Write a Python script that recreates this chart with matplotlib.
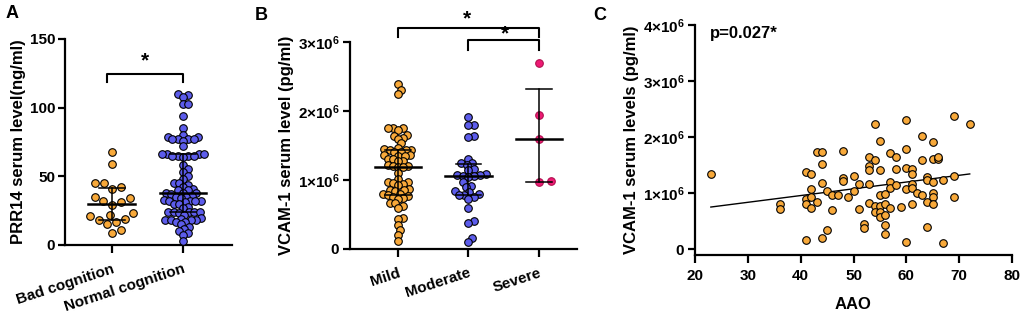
import numpy as np
import matplotlib
matplotlib.use("Agg")
import matplotlib.pyplot as plt

plt.rcParams["font.family"] = ["Liberation Sans", "DejaVu Sans"]
plt.rcParams["font.weight"] = "bold"
plt.rcParams["axes.labelweight"] = "bold"
plt.rcParams["mathtext.fontset"] = "custom"
plt.rcParams["mathtext.rm"] = "Liberation Sans:bold"
plt.rcParams["mathtext.bf"] = "Liberation Sans:bold"
plt.rcParams["mathtext.it"] = "Liberation Sans:bold"

ORANGE = "#F8A93A"
BLUE = "#5C5CEB"
PINK = "#EE1A74"

# panel A: PRR14 (ng/ml)
a_groups = ["Bad cognition", "Normal cognition"]
a_bad = [9, 11, 15, 17, 18, 19, 21, 22, 23, 29, 31, 32, 34, 35, 41, 42, 45, 45, 59, 68]
a_normal = [110, 109, 108, 103, 103, 94, 85, 80, 79, 79, 77, 77, 77, 77, 76, 72,
            66, 66, 66, 66, 65, 65, 65, 65, 64, 58, 55, 53, 50, 48, 45, 45, 44, 42,
            41, 40, 40, 38, 38, 38, 37, 36, 35, 35, 34, 33, 32, 32, 32, 32, 31, 30,
            30, 28, 27, 24, 24, 24, 24, 24, 23, 22, 20, 19, 18, 18, 18, 18, 17, 17,
            15, 13, 12, 10, 9, 7, 3]

# panel B: VCAM-1 (x10^6 pg/ml)
b_groups = ["Mild", "Moderate", "Severe"]
b_mild = [2.39, 2.31, 2.25, 1.76, 1.76, 1.75, 1.73, 1.65, 1.64, 1.61, 1.60, 1.53,
          1.47, 1.45, 1.44, 1.44, 1.43, 1.41, 1.40, 1.36, 1.36, 1.35, 1.35, 1.31,
          1.30, 1.28, 1.27, 1.22, 1.21, 1.20, 1.19, 1.19, 1.10, 1.02, 0.97, 0.97,
          0.95, 0.94, 0.93, 0.87, 0.86, 0.85, 0.84, 0.80, 0.79, 0.78, 0.77, 0.76,
          0.74, 0.73, 0.67, 0.66, 0.62, 0.60, 0.45, 0.43, 0.35, 0.28, 0.21, 0.12]
b_moderate = [1.92, 1.80, 1.79, 1.64, 1.62, 1.31, 1.25, 1.24, 1.22, 1.16, 1.14,
              1.08, 1.07, 1.07, 1.06, 1.06, 1.05, 0.97, 0.92, 0.90, 0.84, 0.83,
              0.80, 0.78, 0.78, 0.76, 0.72, 0.59, 0.40, 0.38, 0.16, 0.10]
b_severe = [2.70, 1.94, 1.60, 0.97, 0.98]

# panel C: AAO vs VCAM-1 (x10^6 pg/ml)
c_aao = [23, 36, 36, 41, 41, 41, 41, 42, 42, 42, 42, 43, 43, 44, 44, 44, 44, 45, 45,
         46, 46, 47, 48, 48, 48, 49, 50, 50, 51, 51, 52, 52, 53, 53, 53, 53, 53,
         54, 54, 54, 54, 55, 55, 55, 55, 55, 55, 56, 56, 56, 56, 56, 57, 57, 57, 57,
         58, 58, 58, 59, 60, 60, 60, 60, 60, 61, 61, 61, 61, 61, 62, 63, 63, 63,
         64, 64, 64, 64, 65, 65, 65, 65, 65, 65, 66, 66, 67, 67, 69, 69, 69, 72]
c_vcam = [1.34, 0.81, 0.72, 1.38, 0.89, 0.81, 0.17, 1.35, 1.07, 0.94, 0.73, 0.84, 1.74,
          1.74, 1.53, 1.18, 0.21, 1.04, 0.35, 0.97, 0.71, 0.97, 1.76, 1.28, 1.22,
          0.94, 1.31, 1.04, 1.16, 0.72, 0.45, 0.38, 1.64, 1.48, 1.41, 1.16, 0.83,
          2.23, 1.60, 0.77, 0.66, 1.93, 1.42, 0.97, 0.77, 0.66, 0.58, 0.99, 0.81,
          0.62, 0.43, 0.27, 1.72, 1.20, 1.10, 0.73, 1.65, 1.44, 1.14, 0.76, 2.31,
          1.79, 1.45, 1.07, 0.13, 1.44, 1.35, 1.16, 1.10, 0.81, 1.01, 2.02, 1.59,
          0.97, 1.29, 1.23, 0.85, 0.40, 1.92, 1.61, 1.20, 1.01, 0.93, 0.81, 1.61,
          1.65, 1.23, 0.11, 2.38, 1.31, 0.93, 2.24]
c_fit_x = [23, 72]
c_fit_y = [0.755, 1.345]

W, H = 1021, 315
fig = plt.figure(figsize=(W / 100, H / 100), dpi=100)


def add_ax(l, t, r, b):
    return fig.add_axes([l / W, 1 - b / H, (r - l) / W, (b - t) / H])


def style(ax):
    for s in ["top", "right"]:
        ax.spines[s].set_visible(False)
    for s in ["left", "bottom"]:
        ax.spines[s].set_linewidth(1.6)
    ax.tick_params(width=1.6, length=5, labelsize=11, pad=2)


def swarm(ax, xc, vals, d):
    # simple beeswarm in pixel space: d = min distance between centres
    vals = np.asarray(vals, float)
    tr = ax.transData
    ppu = tr.transform((xc + 1, 0))[0] - tr.transform((xc, 0))[0]
    ys = tr.transform(np.c_[np.full(len(vals), xc), vals])[:, 1]
    order = np.argsort(ys)
    placed = []
    offs = np.zeros(len(vals))
    for i in order:
        y = ys[i]
        cands = [0.0]
        near = [(px, py) for px, py in placed if abs(py - y) < d]
        for px, py in near:
            dx = np.sqrt(d * d - (py - y) ** 2)
            cands += [px + dx, px - dx]
        cands.sort(key=abs)
        for c in cands:
            if all((c - px) ** 2 + (y - py) ** 2 >= d * d - 1e-6 for px, py in near):
                break
        placed.append((c, y))
        offs[i] = c
    return xc + offs / ppu


def dots(ax, xc, vals, color, d, edge="black", shift=0.0):
    xs = swarm(ax, xc, vals, d) + shift
    ax.scatter(xs, vals, s=30, color=color, edgecolor=edge, linewidth=0.8,
               zorder=3, clip_on=False)
    q1, med, q3 = np.percentile(vals, [25, 50, 75], method="weibull")
    ax.plot([xc - 0.33, xc + 0.33], [med, med], color="black", lw=1.8, zorder=4)
    ax.plot([xc, xc], [q1, q3], color="black", lw=1.1, zorder=4)
    for q in (q1, q3):
        ax.plot([xc - 0.18, xc + 0.18], [q, q], color="black", lw=1.1, zorder=4)


def bracket(ax, x0, x1, y, h, xs, ys):
    ax.plot([x0, x0, x1, x1], [y - h, y, y, y - h], color="black", lw=1.5,
            clip_on=False)
    ax.text(xs, ys, "*", ha="center", va="center", fontsize=15, clip_on=False)


sci = [r"$0$", r"$1{\times}10^{6}$", r"$2{\times}10^{6}$", r"$3{\times}10^{6}$",
       r"$4{\times}10^{6}$"]

# ---- A
ax = add_ax(65, 39, 232, 245)
style(ax)
ax.set_xlim(-0.66, 1.69)
ax.set_ylim(0, 150)
dots(ax, 0, a_bad, ORANGE, 9.5)
dots(ax, 1, a_normal, BLUE, 5.4)
ax.set_yticks([0, 50, 100, 150])
ax.set_xticks([0, 1])
ax.set_xticklabels(a_groups, rotation=18, ha="right", rotation_mode="anchor")
ax.tick_params(axis="x", length=6, pad=6)
ax.set_ylabel("PRR14 serum level(ng/ml)", fontsize=12, labelpad=3)
bracket(ax, -0.07, 1.0, 124.5, 5.8, 0.47, 134)
fig.text(6 / W, 1 - 14 / H, "A", fontsize=13, va="center")

# ---- B
ax = add_ax(350, 42, 577, 249)
style(ax)
ax.set_xlim(-0.68, 2.54)
ax.set_ylim(0, 3)
dots(ax, 0, b_mild, ORANGE, 5.2)
dots(ax, 1, b_moderate, BLUE, 5.8)
dots(ax, 2, b_severe, PINK, 12, edge="#B0104F")
ax.set_yticks([0, 1, 2, 3])
ax.set_yticklabels(sci[:4])
ax.set_xticks([0, 1, 2])
ax.set_xticklabels(b_groups, rotation=18, ha="right", rotation_mode="anchor")
ax.tick_params(axis="x", length=6, pad=6)
ax.set_ylabel("VCAM-1 serum level (pg/ml)", fontsize=12, labelpad=3)
bracket(ax, 0, 2, 3.20, 0.13, 0.98, 3.33)
bracket(ax, 1, 2, 3.03, 0.14, 1.52, 3.12)
fig.text(255 / W, 1 - 15 / H, "B", fontsize=13, va="center")

# ---- C
ax = add_ax(695, 25, 1012, 255)
style(ax)
ax.set_xlim(20, 80)
ax.set_ylim(-0.1, 4)
ax.scatter(c_aao, c_vcam, s=30, color=ORANGE, edgecolor="black", linewidth=0.8,
           zorder=3)
ax.plot(c_fit_x, c_fit_y, color="black", lw=1.0, zorder=2)
ax.set_yticks([0, 1, 2, 3, 4])
ax.set_yticklabels(sci)
ax.set_xticks(range(20, 81, 10))
ax.tick_params(axis="x", length=6, pad=4)
ax.set_xlabel("AAO", fontsize=12, labelpad=10)
ax.set_ylabel("VCAM-1 serum levels (pg/ml)", fontsize=12, labelpad=3)
ax.text(22.8, 3.84, "p=0.027*", fontsize=12, va="center")
fig.text(593 / W, 1 - 15 / H, "C", fontsize=13, va="center")

fig.savefig("out.png", dpi=100)
